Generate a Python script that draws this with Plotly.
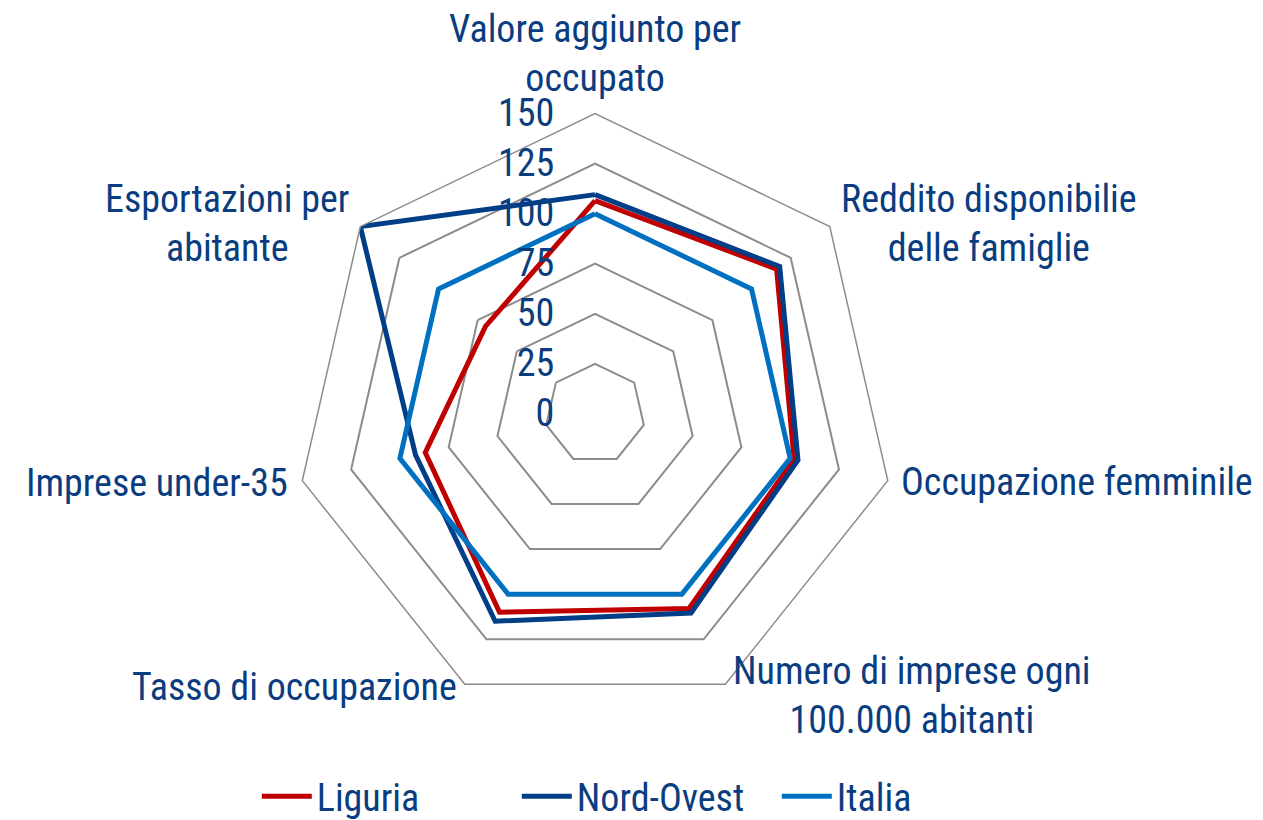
import math
import plotly.graph_objects as go

categories = [
    "Valore aggiunto per<br>occupato",
    "Reddito disponibilie<br>delle famiglie",
    "Occupazione femminile",
    "Numero di imprese ogni<br>100.000 abitanti",
    "Tasso di occupazione",
    "Imprese under-35",
    "Esportazioni per<br>abitante",
]
liguria = [106.5, 116, 102, 108, 110, 87, 70]
nord_ovest = [109.5, 118, 104, 110.5, 115, 92, 150]
italia = [100, 100, 100, 100, 100, 100, 100]
radial_ticks = [0, 25, 50, 75, 100, 125, 150]

series = [
    ("Liguria", liguria, "#C00000"),
    ("Nord-Ovest", nord_ovest, "#003F87"),
    ("Italia", italia, "#0070C0"),
]

FONT = "Liberation Sans Narrow, Arial Narrow, Roboto Condensed, Liberation Sans, Arial, sans-serif"
TEXT = "#0A3D80"
FS = 38
W, H = 1263, 820
DOM_X = [0.2224, 0.7072]
DOM_Y = [0.1218, 0.8687]

# label placement styles (anchor, shift in px) per category
label_style = [
    ("center", "bottom", 0, 18),
    ("left", "middle", 9, 7),
    ("left", "middle", 11, -3),
    ("left", "middle", 6, -17),
    ("right", "middle", -6, -8),
    ("right", "middle", -13, -4),
    ("right", "middle", -9, 7),
]

fig = go.Figure()
for name, vals, color in series:
    fig.add_trace(go.Scatterpolar(
        r=vals + vals[:1],
        theta=categories + categories[:1],
        mode="lines",
        name=name,
        line=dict(color=color, width=5),
    ))

# category labels anchored at the outer vertices of the grid
cx = (DOM_X[0] + DOM_X[1]) / 2
cy = (DOM_Y[0] + DOM_Y[1]) / 2
rpx = min((DOM_X[1] - DOM_X[0]) * W, (DOM_Y[1] - DOM_Y[0]) * H) / 2 * 0.98
n = len(categories)
for i, (cat, st) in enumerate(zip(categories, label_style)):
    ang = 2 * math.pi * i / n
    fig.add_annotation(
        x=cx + rpx * math.sin(ang) / W, y=cy + rpx * math.cos(ang) / H,
        xref="paper", yref="paper", text=cat, showarrow=False,
        xanchor=st[0], yanchor=st[1], xshift=st[2], yshift=st[3],
        align="center", font=dict(family=FONT, size=FS, color=TEXT),
    )

fig.update_layout(
    width=W, height=H,
    margin=dict(l=0, r=0, t=0, b=0),
    paper_bgcolor="white",
    font=dict(family=FONT, color=TEXT, size=FS),
    polar=dict(
        domain=dict(x=DOM_X, y=DOM_Y),
        bgcolor="white",
        gridshape="linear",
        radialaxis=dict(
            range=[0, 150], tickvals=radial_ticks, angle=90, tickangle=90,
            showline=False, gridcolor="#8C8C8C", gridwidth=1.5,
            ticks="outside", ticklen=27, tickcolor="rgba(0,0,0,0)",
            tickfont=dict(size=FS, color=TEXT),
            side="counterclockwise",
        ),
        angularaxis=dict(
            direction="clockwise", rotation=90,
            showgrid=False, showline=True, linecolor="#8C8C8C", linewidth=1.5,
            ticks="", showticklabels=False,
        ),
    ),
    legend=dict(
        orientation="h", x=0.197, xanchor="left", y=-0.02, yanchor="bottom",
        font=dict(size=FS, color=TEXT), itemwidth=50,
        entrywidth=195, entrywidthmode="pixels",
    ),
)

fig.write_html("out.html")
